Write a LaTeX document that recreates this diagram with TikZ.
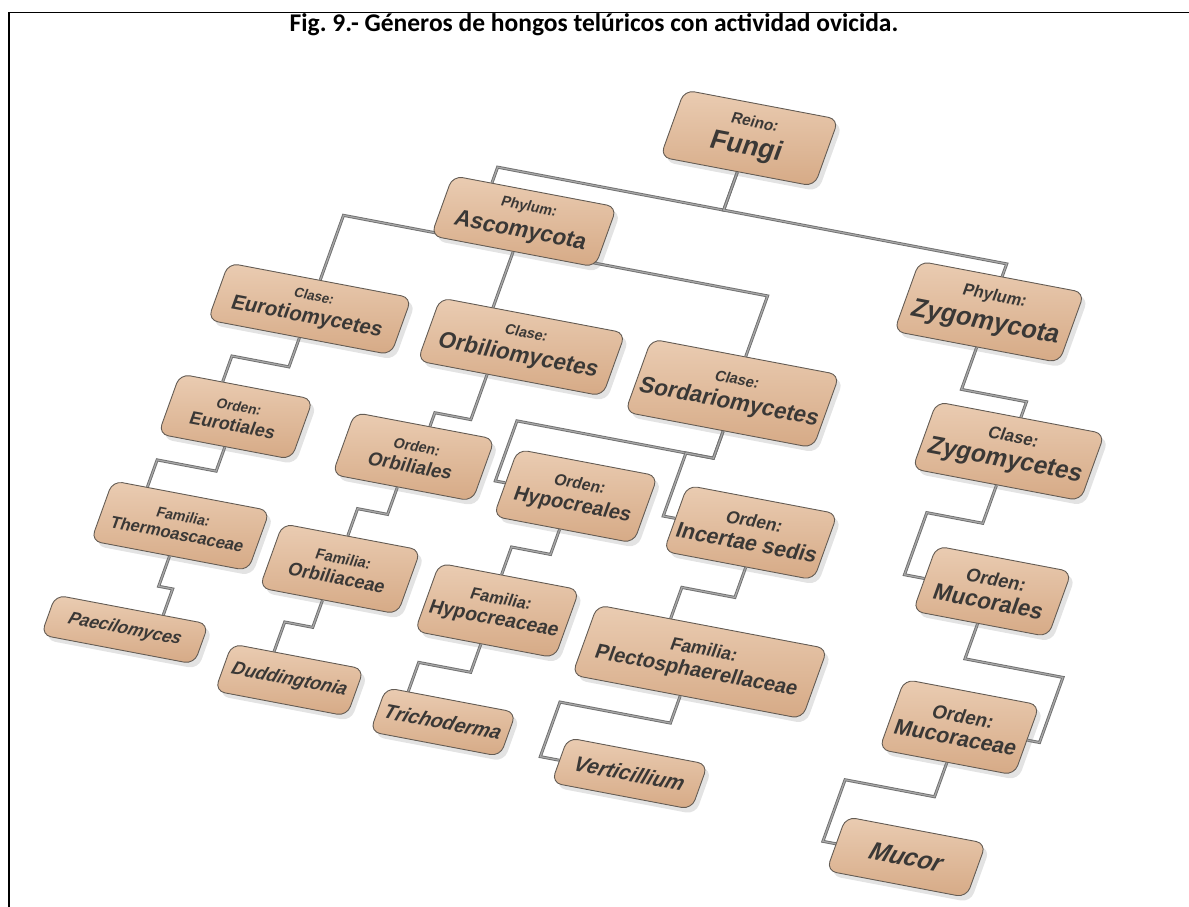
\documentclass[tikz,border=0pt]{standalone}
\usepackage{fontspec}
\setmainfont{Liberation Sans}
\newfontfamily\titlefont{Carlito}
\usetikzlibrary{calc,shadows,backgrounds}
\frenchspacing

\definecolor{boxtan}{RGB}{214,170,134}
\definecolor{boxtop}{RGB}{234,204,178}
\definecolor{boxline}{RGB}{100,92,84}
\definecolor{inkgray}{RGB}{58,56,54}
\definecolor{linkgray}{RGB}{112,112,112}
\definecolor{linklight}{RGB}{168,168,168}

\newcommand{\rank}[2][13]{{\fontsize{#1}{#1}\selectfont\bfseries #2}}
\newcommand{\taxname}[2]{{\fontsize{#1}{#1}\selectfont\bfseries #2}}
\newcommand{\genus}[2]{{\fontsize{#1}{#1}\selectfont\bfseries\itshape #2}}

\begin{document}
\begin{tikzpicture}[x=1pt, y=1pt,
  taxon/.style={rectangle, rounded corners=10pt, draw=boxline, line width=0.9pt,
    top color=boxtop, bottom color=boxtan, text=inkgray, align=center, inner sep=2pt,
    drop shadow={shadow xshift=4pt, shadow yshift=-5pt, opacity=0.22}},
  link/.style={draw=linkgray, line width=0.9pt, double=linklight, double distance=1.2pt}]

\useasboundingbox (0,0) rectangle (1189,-907);
\draw[line width=1.8pt] (1189,-12.5) -- (9,-12.5) -- (9,-907);
\node (title) at (594,-25) {\titlefont\bfseries\fontsize{25.5}{28}\selectfont Fig. 9.- Géneros de hongos telúricos con actividad ovicida.};

\begin{scope}[cm={1,-0.19,0.36,1,(0,0)}, transform shape]
% reino y phyla
\node[taxon, minimum width=154, minimum height=67] (fungi) at (748,4) {\rank[15]{Reino:}\\[7pt]\taxname{26}{Fungi}};
\node[taxon, minimum width=164, minimum height=60] (ascomycota) at (565,-114) {\rank[14]{Phylum:}\\[7pt]\taxname{22}{Ascomycota}};
\node[taxon, minimum width=165, minimum height=70] (zygomycota) at (1031,-116) {\rank[16]{Phylum:}\\[7pt]\taxname{25}{Zygomycota}};
% clases
\node[taxon, minimum width=183, minimum height=57] (eurotiomycetes) at (394,-234) {\rank{Clase:}\\[6pt]\taxname{20}{Eurotiomycetes}};
\node[taxon, minimum width=185, minimum height=63] (orbiliomycetes) at (605,-232) {\rank[14]{Clase:}\\[7pt]\taxname{22}{Orbiliomycetes}};
\node[taxon, minimum width=188, minimum height=73] (sordariomycetes) at (818,-238) {\rank[14.5]{Clase:}\\[7pt]\taxname{22}{Sordariomycetes}};
\node[taxon, minimum width=168, minimum height=67] (zygomycetes) at (1096,-243) {\rank[16.5]{Clase:}\\[7pt]\taxname{24}{Zygomycetes}};
% ordenes
\node[taxon, minimum width=133, minimum height=60] (eurotiales) at (361,-348) {\rank[13.5]{Orden:}\\[6pt]\taxname{17.5}{Eurotiales}};
\node[taxon, minimum width=140, minimum height=62] (orbiliales) at (541,-354) {\rank[14]{Orden:}\\[6pt]\taxname{18.3}{Orbiliales}};
\node[taxon, minimum width=140, minimum height=67] (hypocreales) at (706,-362) {\rank[15.5]{Orden:}\\[6pt]\taxname{19.6}{Hypocreales}};
\node[taxon, minimum width=150, minimum height=66] (incertae) at (882,-365) {\rank[17]{Orden:}\\[6pt]\taxname{21}{Incertae sedis}};
\node[taxon, minimum width=135, minimum height=65] (mucorales) at (1128,-377) {\rank[18]{Orden:}\\[6pt]\taxname{22}{Mucorales}};
% familias
\node[taxon, minimum width=157, minimum height=60] (thermoascaceae) at (346,-460) {\rank[14]{Familia:}\\[6pt]\taxname{16.3}{Thermoascaceae}};
\node[taxon, minimum width=138, minimum height=64] (orbiliaceae) at (510,-472) {\rank[14.5]{Familia:}\\[6pt]\taxname{17.8}{Orbiliaceae}};
\node[taxon, minimum width=140, minimum height=68] (hypocreaceae) at (671,-483) {\rank[16]{Familia:}\\[6pt]\taxname{19}{Hypocreaceae}};
\node[taxon, minimum width=230, minimum height=70] (plecto) at (878,-495) {\rank[17.5]{Familia:}\\[6pt]\taxname{19.8}{Plectosphaerellaceae}};
\node[taxon, minimum width=135, minimum height=70] (mucoraceae) at (1143,-510) {\rank[18.5]{Orden:}\\[6pt]\taxname{21}{Mucoraceae}};
% generos
\node[taxon, minimum width=153, minimum height=40] (paecilomyces) at (329,-567) {\genus{17}{Paecilomyces}};
\node[taxon, minimum width=132, minimum height=47] (duddingtonia) at (500,-585) {\genus{17.8}{Duddingtonia}};
\node[taxon, minimum width=130, minimum height=44] (trichoderma) at (658,-597) {\genus{19.3}{Trichoderma}};
\node[taxon, minimum width=140, minimum height=45] (verticillium) at (850,-612) {\genus{20.4}{Verticillium}};
\node[taxon, minimum width=140, minimum height=54] (mucor) at (1137,-641) {\genus{24}{Mucor}};

\begin{pgfonlayer}{background}
\draw[link] (fungi.south) -- ++(0,-38) -| ($(ascomycota.north)+(-43,0)$);
\draw[link] (fungi.south) -- ++(0,-38) -| (zygomycota.north);
\draw[link] (eurotiomycetes.north) |- ($(ascomycota.south)+(0,4)$) -| (sordariomycetes.north);
\draw[link] (ascomycota.south) -- (ascomycota.south |- orbiliomycetes.north);
\draw[link] (zygomycota.south) -- ++(0,-42) -| (zygomycetes.north);
\draw[link] (eurotiomycetes.south) -- ++(0,-29) -| ($(eurotiales.north)+(-24,0)$);
\draw[link] (eurotiales.south) -- ++(0,-24) -| ($(thermoascaceae.north)+(-44,0)$);
\draw[link] (thermoascaceae.south) -- ++(0,-30) -| ($(paecilomyces.north)+(31,0)$);
\draw[link] ($(orbiliomycetes.south)+(-23,0)$) -- ++(0,-45) -| ($(orbiliales.north)+(5,0)$);
\draw[link] ($(orbiliales.south)+(-5,0)$) -- ++(0,-27) -| ($(orbiliaceae.north)+(-4,0)$);
\draw[link] ($(orbiliaceae.south)+(-6,0)$) -- ++(0,-27) -| ($(duddingtonia.north)+(-24,0)$);
\draw[link] ($(sordariomycetes.south)+(4,0)$) -- ++(0,-27) -| ($(hypocreales.west)+(-10,0)$) -- (hypocreales.west);
\draw[link] ($(sordariomycetes.south)+(4,0)$) -- ++(0,-27) -| ($(incertae.west)+(-12,0)$) -- (incertae.west);
\draw[link] ($(hypocreales.south)+(-4,0)$) -- ++(0,-25) -| ($(hypocreaceae.north)+(-8,0)$);
\draw[link] ($(hypocreaceae.south)+(-4,0)$) -- ++(0,-28) -| ($(trichoderma.north)+(-43,0)$);
\draw[link] ($(incertae.south)+(7,0)$) -- ++(0,-30) -| ($(plecto.north)+(-42,0)$);
\draw[link] ($(plecto.south)+(-7,0)$) -- ++(0,-27) -| ($(verticillium.west)+(-19,0)$) -- (verticillium.west);
\draw[link] (zygomycetes.south) -- ++(0,-38) -| ($(mucorales.west)+(-20,0)$) -- (mucorales.west);
\draw[link] ($(mucorales.south)+(-3,0)$) -- ++(0,-35) -| ($(mucoraceae.east)+(12,0)$) -- (mucoraceae.east);
\draw[link] (mucoraceae.south) -- ++(0,-34) -| ($(mucor.west)+(-13,0)$) -- (mucor.west);
\end{pgfonlayer}
\end{scope}
\end{tikzpicture}
\end{document}
